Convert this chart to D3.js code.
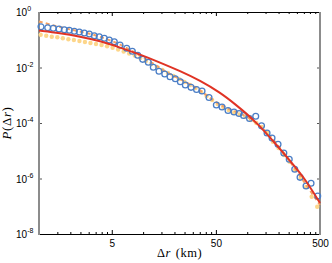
<!DOCTYPE html>
<html>
<head>
<meta charset="utf-8">
<script src="https://cdn.jsdelivr.net/npm/d3@7"></script>
<style>
body { margin: 0; background: #fff; }
svg { display: block; }
</style>
</head>
<body>
<div id="chart"></div>
<script>

// observed distribution (blue open circles)
var obsR = [1.045, 1.212, 1.372, 1.556, 1.750, 1.954, 2.183, 2.439, 2.724, 3.042,
            3.398, 3.796, 4.240, 4.735, 5.289, 6.000, 6.959, 7.877, 8.875, 9.91,
            11.22, 12.53, 14.21, 16.13, 18.13, 20.39, 22.77, 25.43, 28.85, 32.58,
            36.81, 42.96, 50.50, 57.28, 65.40, 74.68, 83.41, 92.16, 105.2, 120.7,
            137.2, 155.0, 173.1, 197.7, 224.7, 253.2, 285.9, 321.6, 367.2, 410.2, 475.6];
var obsP = [0.295, 0.272, 0.259, 0.244, 0.230, 0.219, 0.202, 0.190, 0.175, 0.161,
            0.140, 0.129, 0.113, 0.098, 0.0851, 0.0647, 0.0492, 0.0384, 0.0275, 0.0197,
            0.0154, 0.0102, 0.0073, 0.00583, 0.00466, 0.00394, 0.00308, 0.00234, 0.00193, 0.00161,
            0.00142, 0.00083, 0.000445, 0.000378, 0.000282, 0.000249, 0.00022, 0.000186, 0.000145, 0.000174,
            7.9e-5, 4.36e-5, 2.88e-5, 1.72e-5, 8.3e-6, 4.92e-6, 2.15e-6, 1.1e-6, 5.37e-7, 6.71e-7, 2.34e-7];

// second distribution (yellow dots)
var altR = [1.038, 1.173, 1.326, 1.499, 1.694, 1.914, 2.163, 2.445, 2.763, 3.122,
            3.528, 3.987, 4.506, 5.092, 5.755, 6.503, 7.349, 8.305, 9.386, 10.61,
            11.99, 13.55, 15.31, 17.30, 19.55, 22.09, 24.97, 28.22, 31.89, 36.04,
            40.72, 46.02, 52.01, 58.77, 66.42, 75.06, 84.82, 95.86, 108.3, 122.4,
            138.3, 156.3, 176.7, 199.7, 225.6, 255.0, 288.2, 325.7, 368.0, 415.9, 470.0];
var altP = [0.152, 0.140, 0.129, 0.1226, 0.1128, 0.1038, 0.098, 0.0902, 0.083, 0.0764,
            0.0703, 0.0647, 0.0581, 0.0513, 0.0445, 0.0377, 0.032, 0.0271, 0.022, 0.0171,
            0.01336, 0.01042, 0.00812, 0.00633, 0.00494, 0.00385, 0.0030, 0.00234, 0.00182, 0.00131,
            0.00094, 0.000675, 0.000484, 0.000377, 0.000294, 0.000239, 0.000202, 0.000169, 0.000128, 0.0001,
            7.18e-5, 4.36e-5, 2.12e-5, 1.26e-5, 7.03e-6, 4.03e-6, 2.02e-6, 1.04e-6, 4.94e-7, 2.21e-7, 9.64e-8];

// dashed orange curve
var dashR = [1, 1.275, 1.591, 1.985, 2.766, 3.855, 6.0, 8.0, 11.65, 16.23, 22.62,
             31.52, 39.31, 49.07, 65.40, 88.56, 118.8, 158.4, 230.7, 321.6, 500];
var dashP = [0.455, 0.354, 0.288, 0.234, 0.1824, 0.131, 0.0703, 0.0377, 0.01645, 0.00718, 0.00385,
             0.00198, 0.00111, 0.000571, 0.00032, 0.00022, 0.0001114, 4.36e-5, 7.64e-6, 1.23e-6, 1.11e-7];

// solid red curve
var fitR = [1, 1.591, 2.477, 3.855, 6.0, 9.338, 14.53, 22.62, 35.25, 54.8,
            76.3, 118.8, 184.9, 287.9, 359.2, 500];
var fitP = [0.2154, 0.175, 0.131, 0.0902, 0.0526, 0.0294, 0.01514, 0.00748, 0.0034, 0.001256,
            0.000484, 0.000121, 1.9e-5, 2.66e-6, 9.6e-7, 1.31e-7];

// ticks
var xMajor = [5, 50, 500];
var xLabels = ["5", "50", "500"];
var xMinor = [1, 1.5, 2, 2.5, 3, 3.5, 4, 4.5, 10, 15, 20, 25, 30, 35, 40, 45,
              100, 150, 200, 250, 300, 350, 400, 450];
var yMajor = [1e-8, 1e-6, 1e-4, 1e-2, 1];
var yExp = ["-8", "-6", "-4", "-2", "0"];


var fig = {
    svgWidth: 332,
    svgHeight: 263,
    margin: {"top": 12, "bottom": 29, "left": 39, "right": 12},
};
fig.chartWidth = fig.svgWidth - (fig.margin.left + fig.margin.right);
fig.chartHeight = fig.svgHeight - (fig.margin.top + fig.margin.bottom);

var svg = d3.select("#chart").append("svg")
    .attr("width", fig.svgWidth)
    .attr("height", fig.svgHeight);

var g = svg.append("g")
    .attr("transform", "translate(" + fig.margin.left + "," + fig.margin.top + ")");

var xScale = d3.scaleLog().domain([1, 500]).range([0, fig.chartWidth]);
var yScale = d3.scaleLog().domain([1e-8, 1]).range([fig.chartHeight, 0]);

var tickFont = "'Liberation Sans', Arial, Helvetica, sans-serif";

// ---- axes (ticks point inward, matlab style)
function noDomain(sel) { sel.select(".domain").remove(); }

var xBottom = g.append("g").attr("class", "xAxis")
    .attr("transform", "translate(0," + fig.chartHeight + ")")
    .call(d3.axisBottom(xScale).tickValues(xMajor).tickSize(-4)
          .tickFormat((d, i) => xLabels[i]))
    .call(noDomain);
xBottom.selectAll("text")
    .attr("y", 13).attr("dy", 0)
    .attr("font-family", tickFont).attr("font-size", 10).attr("fill", "#000");

g.append("g")
    .attr("transform", "translate(0," + fig.chartHeight + ")")
    .call(d3.axisBottom(xScale).tickValues(xMinor).tickSize(-2).tickFormat(""))
    .call(noDomain);

g.append("g")
    .call(d3.axisTop(xScale).tickValues(xMajor).tickSize(-4).tickFormat(""))
    .call(noDomain);
g.append("g")
    .call(d3.axisTop(xScale).tickValues(xMinor).tickSize(-2).tickFormat(""))
    .call(noDomain);

var yLeft = g.append("g").attr("class", "yAxis")
    .call(d3.axisLeft(yScale).tickValues(yMajor).tickSize(-3))
    .call(noDomain);
yLeft.selectAll(".tick line").attr("stroke", "#555");
yLeft.selectAll(".tick text").each(function(d, i) {
    var t = d3.select(this);
    t.text(null)
        .attr("x", -23).attr("dy", "0.36em")
        .attr("text-anchor", "start")
        .attr("font-family", tickFont).attr("font-size", 10).attr("fill", "#000");
    t.append("tspan").text("10");
    t.append("tspan").attr("dy", -5).attr("font-size", 7).text(yExp[i]);
});

g.append("g")
    .attr("transform", "translate(" + fig.chartWidth + ",0)")
    .call(d3.axisRight(yScale).tickValues(yMajor).tickSize(-3).tickFormat(""))
    .call(noDomain)
    .selectAll(".tick line").attr("stroke", "#555");

// frame: vertical sides come out soft grey, horizontal ones crisp black
g.append("line").attr("x1", 0).attr("x2", fig.chartWidth)
    .attr("y1", 0.5).attr("y2", 0.5).attr("stroke", "#000");
g.append("line").attr("x1", 0).attr("x2", fig.chartWidth)
    .attr("y1", fig.chartHeight + 0.5).attr("y2", fig.chartHeight + 0.5).attr("stroke", "#000");
g.append("line").attr("x1", 0).attr("x2", 0)
    .attr("y1", 0).attr("y2", fig.chartHeight + 1)
    .attr("stroke", "#8c8c8c").attr("stroke-width", 2);
g.append("line").attr("x1", fig.chartWidth).attr("x2", fig.chartWidth)
    .attr("y1", 0).attr("y2", fig.chartHeight + 1)
    .attr("stroke", "#8c8c8c").attr("stroke-width", 2);

// ---- data
var line = d3.line()
    .x(d => xScale(d[0]))
    .y(d => yScale(d[1]))
    .curve(d3.curveBasis);

g.selectAll("circle.alt")
    .data(d3.zip(altR, altP))
    .enter().append("circle")
    .attr("class", "alt")
    .attr("cx", d => xScale(d[0]))
    .attr("cy", d => yScale(d[1]))
    .attr("r", 2.2)
    .attr("fill", "#fdd68a");

g.append("path")
    .datum(d3.zip(dashR, dashP))
    .attr("d", line)
    .attr("fill", "none")
    .attr("stroke", "#f4a062")
    .attr("stroke-width", 2)
    .attr("stroke-dasharray", "4,3");

g.selectAll("circle.obs")
    .data(d3.zip(obsR, obsP))
    .enter().append("circle")
    .attr("class", "obs")
    .attr("cx", d => xScale(d[0]))
    .attr("cy", d => yScale(d[1]))
    .attr("r", 2.9)
    .attr("fill", "none")
    .attr("stroke", "#4b7ec6")
    .attr("stroke-width", 1.3);

g.append("path")
    .datum(d3.zip(fitR, fitP))
    .attr("d", line)
    .attr("fill", "none")
    .attr("stroke", "#e03324")
    .attr("stroke-width", 2);

// ---- axis titles
var labFont = "'Liberation Serif', 'Times New Roman', serif";

var yt = svg.append("text")
    .attr("transform", "translate(11," + (fig.margin.top + fig.chartHeight / 2) + ") rotate(-90)")
    .attr("text-anchor", "middle")
    .attr("font-family", labFont)
    .attr("font-size", 13)
    .attr("letter-spacing", 0.6);
yt.append("tspan").attr("font-style", "italic").text("P");
yt.append("tspan").text("(Δ");
yt.append("tspan").attr("font-style", "italic").text("r");
yt.append("tspan").text(")");

var xt = svg.append("text")
    .attr("x", fig.margin.left + fig.chartWidth / 2)
    .attr("y", 257)
    .attr("text-anchor", "middle")
    .attr("font-family", labFont)
    .attr("font-size", 12.5)
    .attr("letter-spacing", 0.5);
xt.append("tspan").text("Δ");
xt.append("tspan").attr("font-style", "italic").text("r");
xt.append("tspan").attr("dx", 5).text("(km)");

</script>
</body>
</html>
